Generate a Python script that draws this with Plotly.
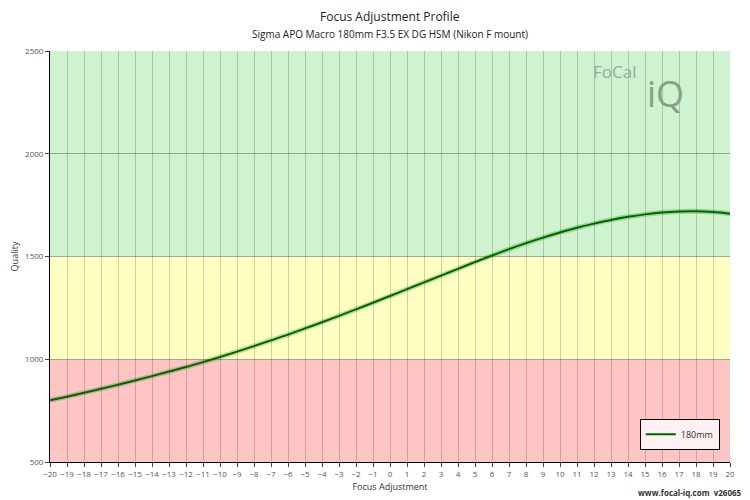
import plotly.graph_objects as go

focus_steps = list(range(-20, 21))
quality_180mm = [800, 818, 837, 856, 876, 897, 918, 940, 962, 986,
                 1011, 1037, 1064, 1092, 1120, 1150, 1180, 1211, 1243, 1275,
                 1308, 1341, 1374, 1407, 1440, 1473, 1505, 1536, 1565, 1592,
                 1617, 1640, 1660, 1678, 1693, 1705, 1714, 1719, 1720, 1716, 1708]

bands = [(500, 1000, "#ffc4c4"), (1000, 1500, "#ffffc4"), (1500, 2500, "#cff3cf")]

fig = go.Figure()

for y0, y1, colour in bands:
    fig.add_shape(type="rect", xref="x", yref="y", x0=-20, x1=20, y0=y0, y1=y1,
                  fillcolor=colour, line_width=0, layer="below")

# soft halo under the line
fig.add_trace(go.Scatter(x=focus_steps, y=quality_180mm, mode="lines",
                         line=dict(color="rgba(0,120,0,0.25)", width=5, shape="spline"),
                         showlegend=False, hoverinfo="skip"))
fig.add_trace(go.Scatter(x=focus_steps, y=quality_180mm, mode="lines", name="180mm",
                         line=dict(color="#006600", width=2, shape="spline")))

fig.update_layout(
    width=742, height=492,
    margin=dict(l=42, r=20, t=43, b=38, autoexpand=False),
    paper_bgcolor="white", plot_bgcolor="white",
    font=dict(family="Open Sans", size=9, color="#333"),
    xaxis=dict(range=[-20, 20], dtick=1, automargin=False,
               title=dict(text="Focus Adjustment", font=dict(size=9), standoff=6),
               showgrid=True, gridcolor="rgba(0,0,0,0.18)", gridwidth=1, zeroline=False,
               showline=True, linecolor="#000", ticks="outside", ticklen=4,
               tickfont=dict(size=8, color="#555"), layer="above traces"),
    yaxis=dict(range=[500, 2500], tickvals=[500, 1000, 1500, 2000, 2500], automargin=False,
               title=dict(text="Quality", font=dict(size=9), standoff=10),
               showgrid=True, gridcolor="rgba(0,0,0,0.3)", zeroline=False,
               showline=True, linecolor="#000", ticks="outside", ticklen=4,
               tickfont=dict(size=8, color="#555")),
    legend=dict(x=0.985, y=0.03, xanchor="right", yanchor="bottom", bgcolor="#fdf0f0",
                bordercolor="#000", borderwidth=1, font=dict(size=9)),
    annotations=[
        dict(text="Focus Adjustment Profile", x=0.5, y=1.085, xref="paper", yref="paper",
             showarrow=False, xanchor="center", yanchor="middle", font=dict(size=12, color="#222")),
        dict(text="Sigma APO Macro 180mm F3.5 EX DG HSM (Nikon F mount)", x=0.5, y=1.041,
             xref="paper", yref="paper", showarrow=False, xanchor="center", yanchor="middle",
             font=dict(size=10, color="#222")),
        dict(text="FoCal", x=0.83, y=0.982, xref="paper", yref="paper", showarrow=False,
             font=dict(size=17, color="#9aaa9a"), xanchor="center"),
        dict(text="iQ", x=0.905, y=0.96, xref="paper", yref="paper", showarrow=False,
             font=dict(size=36, color="#88a088"), xanchor="center"),
        dict(text="<b>www.focal-iq.com  v26065</b>", x=1.02, y=-0.073, xref="paper", yref="paper",
             showarrow=False, xanchor="right", yanchor="middle", font=dict(size=8, color="#333")),
    ],
)

fig.write_html("out.html")
